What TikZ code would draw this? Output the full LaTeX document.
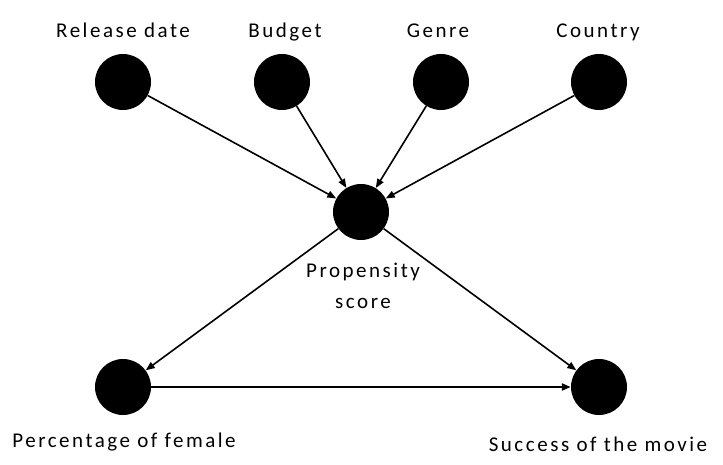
\documentclass[tikz,border=0pt]{standalone}
\usepackage{fontspec}
\setmainfont{Carlito}[LetterSpace=12]
\usetikzlibrary{arrows.meta}
\begin{document}
\begin{tikzpicture}[x=1pt,y=-1pt,
  dot/.style={circle,fill=black,minimum size=56pt,inner sep=0pt},
  lab/.style={font=\fontsize{21}{31}\selectfont,align=center,anchor=base,inner sep=0pt},
  edge/.style={line width=1.6pt,-{Triangle[length=9pt,width=7pt]}}]
\useasboundingbox (0,0) rectangle (723,465);
\node[dot] (rel) at (123,82) {};
\node[dot] (bud) at (282,82) {};
\node[dot] (gen) at (441,82) {};
\node[dot] (cou) at (599,82) {};
\node[dot] (pro) at (361,212) {};
\node[dot] (pct) at (123,387) {};
\node[dot] (suc) at (599,387) {};
\node[lab] (lrel) at (123,38) {Release date};
\node[lab] (lbud) at (285,38) {Budget};
\node[lab] (lgen) at (438,38) {Genre};
\node[lab] (lcou) at (598,38) {Country};
\node[lab] (lpro) at (363,277) {Propensity};
\node[lab] (lpro2) at (363,308) {score};
\node[lab] (lpct) at (124,447) {Percentage of female};
\node[lab] (lsuc) at (598,451) {Success of the movie};
\draw[edge] (rel) -- (pro);
\draw[edge] (bud) -- (pro);
\draw[edge] (gen) -- (pro);
\draw[edge] (cou) -- (pro);
\draw[edge] (pro) -- (pct);
\draw[edge] (pro) -- (suc);
\draw[edge,line width=2.4pt] (pct) -- (suc);
\end{tikzpicture}
\end{document}
